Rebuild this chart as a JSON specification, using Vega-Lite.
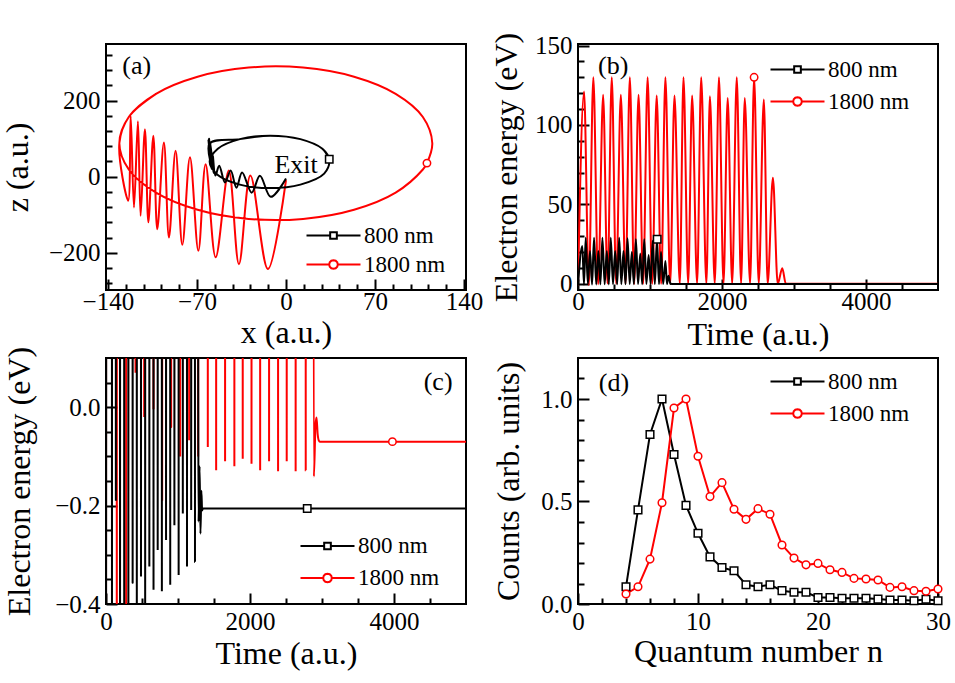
{
 "$schema": "https://vega.github.io/schema/vega-lite/v6.json",
 "background": "white",
 "padding": {"left": 0, "top": 31, "right": 0, "bottom": 0},
 "columns": 2,
 "spacing": {"row": 68, "column": 112},
 "bounds": "flush",
 "datasets": {
  "traj": [
   {"series":"1800 nm","i":1,"x":0,"z":-9},
   {"series":"1800 nm","i":2,"x":-14.2,"z":-243},
   {"series":"1800 nm","i":3,"x":-28,"z":3},
   {"series":"1800 nm","i":4,"x":-37,"z":-230},
   {"series":"1800 nm","i":5,"x":-45,"z":16},
   {"series":"1800 nm","i":6,"x":-55.3,"z":-212},
   {"series":"1800 nm","i":7,"x":-63.2,"z":33},
   {"series":"1800 nm","i":8,"x":-68.9,"z":-195},
   {"series":"1800 nm","i":9,"x":-75.5,"z":51},
   {"series":"1800 nm","i":10,"x":-81.5,"z":-179},
   {"series":"1800 nm","i":11,"x":-86.8,"z":68},
   {"series":"1800 nm","i":12,"x":-92,"z":-160},
   {"series":"1800 nm","i":13,"x":-96,"z":90},
   {"series":"1800 nm","i":14,"x":-101.2,"z":-138},
   {"series":"1800 nm","i":15,"x":-104.3,"z":108},
   {"series":"1800 nm","i":16,"x":-108.2,"z":-120},
   {"series":"1800 nm","i":17,"x":-110.9,"z":125},
   {"series":"1800 nm","i":18,"x":-114.3,"z":-103},
   {"series":"1800 nm","i":19,"x":-116.4,"z":146},
   {"series":"1800 nm","i":20,"x":-119.5,"z":-81},
   {"series":"1800 nm","i":21,"x":-122.1,"z":160},
   {"series":"1800 nm","i":22,"x":-124,"z":-63},
   {"series":"1800 nm","i":23,"x":-131,"z":88},
   {"series":"1800 nm","i":24,"x":-123.6,"z":157.1},
   {"series":"1800 nm","i":25,"x":-102.2,"z":217.9},
   {"series":"1800 nm","i":26,"x":-69.5,"z":262.9},
   {"series":"1800 nm","i":27,"x":-29.4,"z":287},
   {"series":"1800 nm","i":28,"x":13.4,"z":287},
   {"series":"1800 nm","i":29,"x":53.5,"z":262.9},
   {"series":"1800 nm","i":30,"x":86.2,"z":217.9},
   {"series":"1800 nm","i":31,"x":107.6,"z":157.1},
   {"series":"1800 nm","i":32,"x":115,"z":88},
   {"series":"1800 nm","i":33,"x":110.8,"z":35.7},
   {"series":"1800 nm","i":34,"x":107.6,"z":18.9},
   {"series":"1800 nm","i":35,"x":86.2,"z":-41.9},
   {"series":"1800 nm","i":36,"x":53.5,"z":-86.9},
   {"series":"1800 nm","i":37,"x":13.4,"z":-111},
   {"series":"1800 nm","i":38,"x":-29.4,"z":-111},
   {"series":"1800 nm","i":39,"x":-69.5,"z":-86.9},
   {"series":"1800 nm","i":40,"x":-102.2,"z":-41.9},
   {"series":"1800 nm","i":41,"x":-123.6,"z":18.9},
   {"series":"1800 nm","i":42,"x":-131,"z":88},
   {"series":"1800 nm","i":43,"x":-123.6,"z":157.1},
   {"series":"1800 nm","i":44,"x":-102.2,"z":217.9},
   {"series":"800 nm","i":1,"x":0,"z":-4.5},
   {"series":"800 nm","i":2,"x":-12,"z":-53},
   {"series":"800 nm","i":3,"x":-20.5,"z":2.6},
   {"series":"800 nm","i":4,"x":-27,"z":-42},
   {"series":"800 nm","i":5,"x":-34.5,"z":11},
   {"series":"800 nm","i":6,"x":-39,"z":-29},
   {"series":"800 nm","i":7,"x":-43.5,"z":16},
   {"series":"800 nm","i":8,"x":-48,"z":-15},
   {"series":"800 nm","i":9,"x":-52.5,"z":29},
   {"series":"800 nm","i":10,"x":-55.5,"z":3},
   {"series":"800 nm","i":11,"x":-57.5,"z":55},
   {"series":"800 nm","i":12,"x":-57,"z":10},
   {"series":"800 nm","i":13,"x":-59.5,"z":90},
   {"series":"800 nm","i":14,"x":-58.5,"z":20},
   {"series":"800 nm","i":15,"x":-60.5,"z":100},
   {"series":"800 nm","i":16,"x":-59,"z":30},
   {"series":"800 nm","i":17,"x":-61,"z":98},
   {"series":"800 nm","i":18,"x":-59.5,"z":40},
   {"series":"800 nm","i":19,"x":-60,"z":88},
   {"series":"800 nm","i":20,"x":-36.3,"z":98.8},
   {"series":"800 nm","i":21,"x":-12.5,"z":108},
   {"series":"800 nm","i":22,"x":11.3,"z":98.8},
   {"series":"800 nm","i":23,"x":28.6,"z":73.5},
   {"series":"800 nm","i":24,"x":34,"z":44},
   {"series":"800 nm","i":25,"x":30,"z":8},
   {"series":"800 nm","i":26,"x":11.3,"z":-20.8},
   {"series":"800 nm","i":27,"x":-12.5,"z":-30},
   {"series":"800 nm","i":28,"x":-36.3,"z":-20.8},
   {"series":"800 nm","i":29,"x":-53.6,"z":4.5},
   {"series":"800 nm","i":30,"x":-60,"z":39},
   {"series":"800 nm","i":31,"x":-53.6,"z":73.5},
   {"series":"800 nm","i":32,"x":-36.3,"z":98.8},
   {"series":"800 nm","i":33,"x":-12.5,"z":108},
   {"series":"800 nm","i":34,"x":11.3,"z":98.8},
   {"series":"800 nm","i":35,"x":28.6,"z":73.5},
   {"series":"800 nm","i":36,"x":34,"z":46}
  ],
  "energy": [
   {"series":"1800 nm","t":0,"E":-1},{"series":"1800 nm","t":84,"E":121},{"series":"1800 nm","t":150,"E":-0.9},{"series":"1800 nm","t":213,"E":130},
   {"series":"1800 nm","t":280,"E":-0.45},{"series":"1800 nm","t":349,"E":119},{"series":"1800 nm","t":410,"E":0.07},{"series":"1800 nm","t":469,"E":130},
   {"series":"1800 nm","t":530,"E":-0.02},{"series":"1800 nm","t":595,"E":119},{"series":"1800 nm","t":660,"E":-0.004},{"series":"1800 nm","t":720,"E":130},
   {"series":"1800 nm","t":780,"E":-0.19},{"series":"1800 nm","t":841,"E":119},{"series":"1800 nm","t":905,"E":-0.04},{"series":"1800 nm","t":967,"E":130},
   {"series":"1800 nm","t":1030,"E":-0.1},{"series":"1800 nm","t":1093,"E":118.5},{"series":"1800 nm","t":1155,"E":-0.067},{"series":"1800 nm","t":1214,"E":130},
   {"series":"1800 nm","t":1280,"E":-0.1},{"series":"1800 nm","t":1340,"E":118.5},{"series":"1800 nm","t":1414,"E":-0.081},{"series":"1800 nm","t":1465,"E":130},
   {"series":"1800 nm","t":1530,"E":-0.128},{"series":"1800 nm","t":1585,"E":118.5},{"series":"1800 nm","t":1654,"E":-0.11},{"series":"1800 nm","t":1711,"E":130},
   {"series":"1800 nm","t":1783,"E":-0.12},{"series":"1800 nm","t":1832,"E":118},{"series":"1800 nm","t":1899,"E":-0.105},{"series":"1800 nm","t":1958,"E":130},
   {"series":"1800 nm","t":2021,"E":-0.115},{"series":"1800 nm","t":2079,"E":117},{"series":"1800 nm","t":2141,"E":-0.128},{"series":"1800 nm","t":2205,"E":130},
   {"series":"1800 nm","t":2265,"E":-0.11},{"series":"1800 nm","t":2316,"E":117},{"series":"1800 nm","t":2390,"E":-0.13},{"series":"1800 nm","t":2446,"E":130},
   {"series":"1800 nm","t":2510,"E":-0.11},{"series":"1800 nm","t":2581,"E":116},{"series":"1800 nm","t":2634,"E":-0.13},{"series":"1800 nm","t":2707,"E":66.8},
   {"series":"1800 nm","t":2774,"E":-0.128},{"series":"1800 nm","t":2837,"E":9.7},{"series":"1800 nm","t":2887,"E":-0.141},{"series":"1800 nm","t":2910,"E":-0.035},
   {"series":"1800 nm","t":2924,"E":-0.021},{"series":"1800 nm","t":2940,"E":-0.055},{"series":"1800 nm","t":2956,"E":-0.068},{"series":"1800 nm","t":2970,"E":-0.07},
   {"series":"1800 nm","t":5000,"E":-0.07},
   {"series":"800 nm","t":0,"E":-1},{"series":"800 nm","t":60,"E":23.7},{"series":"800 nm","t":83,"E":-0.6},{"series":"800 nm","t":107,"E":29},
   {"series":"800 nm","t":137,"E":-0.19},{"series":"800 nm","t":167,"E":20.6},{"series":"800 nm","t":195,"E":-0.6},{"series":"800 nm","t":223,"E":29},
   {"series":"800 nm","t":253,"E":-0.5},{"series":"800 nm","t":283,"E":20.6},{"series":"800 nm","t":311,"E":-0.45},{"series":"800 nm","t":339,"E":29},
   {"series":"800 nm","t":370,"E":-0.357},{"series":"800 nm","t":400,"E":20.6},{"series":"800 nm","t":428,"E":-0.45},{"series":"800 nm","t":455,"E":29},
   {"series":"800 nm","t":486,"E":-0.344},{"series":"800 nm","t":516,"E":20.6},{"series":"800 nm","t":544,"E":-0.42},{"series":"800 nm","t":572,"E":29},
   {"series":"800 nm","t":602,"E":-0.324},{"series":"800 nm","t":632,"E":20.6},{"series":"800 nm","t":660,"E":-0.371},{"series":"800 nm","t":688,"E":28.6},
   {"series":"800 nm","t":718,"E":-0.29},{"series":"800 nm","t":748,"E":20},{"series":"800 nm","t":776,"E":-0.374},{"series":"800 nm","t":804,"E":28},
   {"series":"800 nm","t":834,"E":-0.27},{"series":"800 nm","t":865,"E":19},{"series":"800 nm","t":892,"E":-0.361},{"series":"800 nm","t":920,"E":28},
   {"series":"800 nm","t":950,"E":-0.24},{"series":"800 nm","t":981,"E":18},{"series":"800 nm","t":1009,"E":-0.341},{"series":"800 nm","t":1037,"E":27},
   {"series":"800 nm","t":1067,"E":-0.216},{"series":"800 nm","t":1097,"E":28},{"series":"800 nm","t":1125,"E":-0.324},{"series":"800 nm","t":1153,"E":20},
   {"series":"800 nm","t":1183,"E":-0.209},{"series":"800 nm","t":1214,"E":14.3},{"series":"800 nm","t":1236,"E":-0.314},{"series":"800 nm","t":1257,"E":5},
   {"series":"800 nm","t":1285,"E":-0.233},{"series":"800 nm","t":1300,"E":-0.12},{"series":"800 nm","t":1312,"E":-0.257},{"series":"800 nm","t":1325,"E":-0.17},
   {"series":"800 nm","t":1335,"E":-0.21},{"series":"800 nm","t":1345,"E":-0.206},{"series":"800 nm","t":5000,"E":-0.206}
  ],
  "mkA": [{"series":"800 nm","x":34,"z":46},{"series":"1800 nm","x":110.8,"z":35.7}],
  "mkB": [{"series":"800 nm","t":1100,"E":28},{"series":"1800 nm","t":2446,"E":130}],
  "mkC": [{"series":"800 nm","t":2795,"E":-0.206},{"series":"1800 nm","t":3978,"E":-0.07}],
  "dist": [
   {"series":"800 nm","n":4,"c":0.084},{"series":"800 nm","n":5,"c":0.459},{"series":"800 nm","n":6,"c":0.827},{"series":"800 nm","n":7,"c":1.0},
   {"series":"800 nm","n":8,"c":0.729},{"series":"800 nm","n":9,"c":0.481},{"series":"800 nm","n":10,"c":0.345},{"series":"800 nm","n":11,"c":0.23},
   {"series":"800 nm","n":12,"c":0.178},{"series":"800 nm","n":13,"c":0.162},{"series":"800 nm","n":14,"c":0.094},{"series":"800 nm","n":15,"c":0.084},
   {"series":"800 nm","n":16,"c":0.094},{"series":"800 nm","n":17,"c":0.065},{"series":"800 nm","n":18,"c":0.057},{"series":"800 nm","n":19,"c":0.057},
   {"series":"800 nm","n":20,"c":0.032},{"series":"800 nm","n":21,"c":0.032},{"series":"800 nm","n":22,"c":0.028},{"series":"800 nm","n":23,"c":0.028},
   {"series":"800 nm","n":24,"c":0.028},{"series":"800 nm","n":25,"c":0.024},{"series":"800 nm","n":26,"c":0.019},{"series":"800 nm","n":27,"c":0.019},
   {"series":"800 nm","n":28,"c":0.016},{"series":"800 nm","n":29,"c":0.023},{"series":"800 nm","n":30,"c":0.016},
   {"series":"1800 nm","n":4,"c":0.049},{"series":"1800 nm","n":5,"c":0.084},{"series":"1800 nm","n":6,"c":0.219},{"series":"1800 nm","n":7,"c":0.494},
   {"series":"1800 nm","n":8,"c":0.956},{"series":"1800 nm","n":9,"c":1.0},{"series":"1800 nm","n":10,"c":0.721},{"series":"1800 nm","n":11,"c":0.524},
   {"series":"1800 nm","n":12,"c":0.592},{"series":"1800 nm","n":13,"c":0.462},{"series":"1800 nm","n":14,"c":0.413},{"series":"1800 nm","n":15,"c":0.465},
   {"series":"1800 nm","n":16,"c":0.438},{"series":"1800 nm","n":17,"c":0.288},{"series":"1800 nm","n":18,"c":0.224},{"series":"1800 nm","n":19,"c":0.191},
   {"series":"1800 nm","n":20,"c":0.198},{"series":"1800 nm","n":21,"c":0.167},{"series":"1800 nm","n":22,"c":0.154},{"series":"1800 nm","n":23,"c":0.125},
   {"series":"1800 nm","n":24,"c":0.122},{"series":"1800 nm","n":25,"c":0.117},{"series":"1800 nm","n":26,"c":0.081},{"series":"1800 nm","n":27,"c":0.084},
   {"series":"1800 nm","n":28,"c":0.065},{"series":"1800 nm","n":29,"c":0.062},{"series":"1800 nm","n":30,"c":0.073}
  ]
 },
 "concat": [
  {
   "width": 360, "height": 246,
   "resolve": {"axis": {"x": "independent", "y": "independent"}},
   "layer": [
    {"data": {"name": "traj"}, "transform": [{"filter": "datum.series === '1800 nm'"}],
     "mark": {"type": "line", "interpolate": "catmull-rom", "color": "red", "strokeWidth": 2},
     "encoding": {
      "x": {"field": "x", "type": "quantitative", "scale": {"domain": [-141.5, 141.5], "nice": false, "zero": false},
            "axis": {"orient": "bottom", "values": [-140,-70,0,70,140], "format": "d", "tickSize": -11, "labelPadding": 10.5, "title": "x (a.u.)", "titlePadding": 3}},
      "y": {"field": "z", "type": "quantitative", "scale": {"domain": [-298, 349], "nice": false, "zero": false},
            "axis": {"orient": "left", "values": [-200,0,200], "format": "d", "tickSize": -11, "labelPadding": 17, "title": "z (a.u.)", "titlePadding": 13.5}},
      "order": {"field": "i"}
     }},
    {"data": {"name": "traj"}, "transform": [{"filter": "datum.series === '800 nm'"}],
     "mark": {"type": "line", "interpolate": "catmull-rom", "color": "black", "strokeWidth": 2},
     "encoding": {
      "x": {"field": "x", "type": "quantitative", "axis": null},
      "y": {"field": "z", "type": "quantitative", "axis": null},
      "order": {"field": "i"}
     }},
    {"data": {"name": "mkA"},
     "mark": {"type": "point", "filled": false, "fill": "white", "strokeWidth": 1.5, "size": 55, "opacity": 1},
     "encoding": {
      "x": {"field": "x", "type": "quantitative", "axis": null},
      "y": {"field": "z", "type": "quantitative", "axis": null},
      "color": {"field": "series", "type": "nominal", "scale": {"domain": ["800 nm", "1800 nm"], "range": ["black", "red"]}},
      "shape": {"condition": {"test": "datum.series === '800 nm'", "value": "square"}, "value": "circle"}
     }},
    {"data": {"name": "mkA"},
     "mark": {"type": "point", "filled": false, "fill": "white", "strokeWidth": 2, "opacity": 0},
     "encoding": {
      "x": {"field": "x", "type": "quantitative", "axis": {"orient": "bottom", "values": [-126,-112,-98,-84,-56,-42,-28,-14,14,28,42,56,84,98,112,126], "tickSize": -6, "labels": false, "title": null}},
      "y": {"field": "z", "type": "quantitative", "axis": {"orient": "left", "values": [-280,-240,-160,-120,-80,-40,40,80,120,160,240,280,320], "tickSize": -6, "labels": false, "title": null}},
      "color": {"field": "series", "type": "nominal", "scale": {"domain": ["800 nm", "1800 nm"], "range": ["black", "red"]},
                "legend": {"title": null, "orient": "none", "legendX": 216, "legendY": 180, "symbolSize": 324, "symbolStrokeWidth": 2, "symbolOpacity": 1, "labelFont": "'Liberation Serif', 'DejaVu Serif', serif", "labelFontSize": 23, "labelOffset": 19, "rowPadding": 5, "padding": 0}},
      "shape": {"field": "series", "type": "nominal", "scale": {"domain": ["800 nm", "1800 nm"], "range": ["M-3,0H-0.37M0.37,0H3M-0.37,-0.37H0.37V0.37H-0.37Z", "M-3,0H-0.48M0.48,0H3M0.48,0L0.416,0.24L0.24,0.416L0,0.48L-0.24,0.416L-0.416,0.24L-0.48,0L-0.416,-0.24L-0.24,-0.416L0,-0.48L0.24,-0.416L0.416,-0.24Z"]},
                "legend": {"title": null, "orient": "none", "legendX": 216, "legendY": 180, "symbolSize": 324, "symbolStrokeWidth": 2, "symbolOpacity": 1, "labelFont": "'Liberation Serif', 'DejaVu Serif', serif", "labelFontSize": 23, "labelOffset": 19, "rowPadding": 5, "padding": 0}}
     }},
    {"data": {"values": [{}]},
     "mark": {"type": "text", "text": "Exit", "fontSize": 26, "align": "right", "baseline": "alphabetic", "font": "'Liberation Serif', 'DejaVu Serif', serif", "color": "black"},
     "encoding": {"x": {"datum": 25, "type": "quantitative", "axis": null}, "y": {"datum": 11, "type": "quantitative", "axis": null}}},
    {"data": {"values": [{}]},
     "mark": {"type": "text", "text": "(a)", "fontSize": 26, "align": "center", "baseline": "middle", "font": "'Liberation Serif', 'DejaVu Serif', serif", "color": "black"},
     "encoding": {"x": {"datum": -117.4, "type": "quantitative", "axis": null}, "y": {"datum": 292, "type": "quantitative", "axis": null}}}
   ]
  },
  {
   "width": 360, "height": 246,
   "resolve": {"axis": {"x": "independent", "y": "independent"}},
   "layer": [
    {"data": {"name": "energy"}, "transform": [{"filter": "datum.series === '1800 nm'"}],
     "mark": {"type": "line", "interpolate": "monotone", "color": "red", "strokeWidth": 2, "clip": true},
     "encoding": {
      "x": {"field": "t", "type": "quantitative", "scale": {"domain": [0, 5000], "nice": false, "zero": false},
            "axis": {"orient": "bottom", "values": [0,2000,4000], "format": "d", "tickSize": -11, "labelPadding": 10.5, "title": "Time (a.u.)", "titlePadding": 5}},
      "y": {"field": "E", "type": "quantitative", "scale": {"domain": [-4, 151], "nice": false, "zero": false},
            "axis": {"orient": "left", "values": [0,50,100,150], "format": "d", "tickSize": -11, "labelPadding": 17, "title": "Electron energy (eV)", "titlePadding": 11}}
     }},
    {"data": {"name": "energy"}, "transform": [{"filter": "datum.series === '800 nm'"}],
     "mark": {"type": "line", "interpolate": "monotone", "color": "black", "strokeWidth": 2, "clip": true},
     "encoding": {
      "x": {"field": "t", "type": "quantitative", "axis": null},
      "y": {"field": "E", "type": "quantitative", "axis": null}
     }},
    {"data": {"name": "mkB"},
     "mark": {"type": "point", "filled": false, "fill": "white", "strokeWidth": 1.5, "size": 55, "opacity": 1},
     "encoding": {
      "x": {"field": "t", "type": "quantitative", "axis": null},
      "y": {"field": "E", "type": "quantitative", "axis": null},
      "color": {"field": "series", "type": "nominal", "scale": {"domain": ["800 nm", "1800 nm"], "range": ["black", "red"]}},
      "shape": {"condition": {"test": "datum.series === '800 nm'", "value": "square"}, "value": "circle"}
     }},
    {"data": {"name": "mkB"},
     "mark": {"type": "point", "filled": false, "fill": "white", "strokeWidth": 2, "opacity": 0},
     "encoding": {
      "x": {"field": "t", "type": "quantitative", "axis": {"orient": "bottom", "values": [500,1000,1500,2500,3000,3500,4500], "tickSize": -6, "labels": false, "title": null}},
      "y": {"field": "E", "type": "quantitative", "axis": {"orient": "left", "values": [10,20,30,40,60,70,80,90,110,120,130,140], "tickSize": -6, "labels": false, "title": null}},
      "color": {"field": "series", "type": "nominal", "scale": {"domain": ["800 nm", "1800 nm"], "range": ["black", "red"]},
                "legend": {"title": null, "orient": "none", "legendX": 208, "legendY": 14, "symbolSize": 324, "symbolStrokeWidth": 2, "symbolOpacity": 1, "labelFont": "'Liberation Serif', 'DejaVu Serif', serif", "labelFontSize": 23, "labelOffset": 19, "rowPadding": 8, "padding": 0}},
      "shape": {"field": "series", "type": "nominal", "scale": {"domain": ["800 nm", "1800 nm"], "range": ["M-3,0H-0.37M0.37,0H3M-0.37,-0.37H0.37V0.37H-0.37Z", "M-3,0H-0.48M0.48,0H3M0.48,0L0.416,0.24L0.24,0.416L0,0.48L-0.24,0.416L-0.416,0.24L-0.48,0L-0.416,-0.24L-0.24,-0.416L0,-0.48L0.24,-0.416L0.416,-0.24Z"]},
                "legend": {"title": null, "orient": "none", "legendX": 208, "legendY": 14, "symbolSize": 324, "symbolStrokeWidth": 2, "symbolOpacity": 1, "labelFont": "'Liberation Serif', 'DejaVu Serif', serif", "labelFontSize": 23, "labelOffset": 19, "rowPadding": 8, "padding": 0}}
     }},
    {"data": {"values": [{}]},
     "mark": {"type": "text", "text": "(b)", "fontSize": 26, "align": "center", "baseline": "middle", "font": "'Liberation Serif', 'DejaVu Serif', serif", "color": "black"},
     "encoding": {"x": {"datum": 488, "type": "quantitative", "axis": null}, "y": {"datum": 137, "type": "quantitative", "axis": null}}}
   ]
  },
  {
   "width": 360, "height": 246,
   "resolve": {"axis": {"x": "independent", "y": "independent"}},
   "layer": [
    {"data": {"name": "energy"}, "transform": [{"filter": "datum.series === '1800 nm'"}],
     "mark": {"type": "line", "interpolate": "monotone", "color": "red", "strokeWidth": 2, "clip": true},
     "encoding": {
      "x": {"field": "t", "type": "quantitative", "scale": {"domain": [0, 5000], "nice": false, "zero": false},
            "axis": {"orient": "bottom", "values": [0,2000,4000], "format": "d", "tickSize": -11, "labelPadding": 16.3, "title": "Time (a.u.)", "titlePadding": 4}},
      "y": {"field": "E", "type": "quantitative", "scale": {"domain": [-0.4, 0.1], "nice": false, "zero": false},
            "axis": {"orient": "left", "values": [-0.4,-0.2,0], "format": ".1f", "tickSize": -11, "labelPadding": 17, "title": "Electron energy (eV)", "titlePadding": 18}}
     }},
    {"data": {"name": "energy"}, "transform": [{"filter": "datum.series === '800 nm'"}],
     "mark": {"type": "line", "interpolate": "monotone", "color": "black", "strokeWidth": 2, "clip": true},
     "encoding": {
      "x": {"field": "t", "type": "quantitative", "axis": null},
      "y": {"field": "E", "type": "quantitative", "axis": null}
     }},
    {"data": {"name": "mkC"},
     "mark": {"type": "point", "filled": false, "fill": "white", "strokeWidth": 1.5, "size": 55, "opacity": 1},
     "encoding": {
      "x": {"field": "t", "type": "quantitative", "axis": null},
      "y": {"field": "E", "type": "quantitative", "axis": null},
      "color": {"field": "series", "type": "nominal", "scale": {"domain": ["800 nm", "1800 nm"], "range": ["black", "red"]}},
      "shape": {"condition": {"test": "datum.series === '800 nm'", "value": "square"}, "value": "circle"}
     }},
    {"data": {"name": "mkC"},
     "mark": {"type": "point", "filled": false, "fill": "white", "strokeWidth": 2, "opacity": 0},
     "encoding": {
      "x": {"field": "t", "type": "quantitative", "axis": {"orient": "bottom", "values": [500,1000,1500,2500,3000,3500,4500], "tickSize": -6, "labels": false, "title": null}},
      "y": {"field": "E", "type": "quantitative", "axis": {"orient": "left", "values": [-0.35,-0.3,-0.25,-0.15,-0.1,-0.05,0.05], "tickSize": -6, "labels": false, "title": null}},
      "color": {"field": "series", "type": "nominal", "scale": {"domain": ["800 nm", "1800 nm"], "range": ["black", "red"]},
                "legend": {"title": null, "orient": "none", "legendX": 210, "legendY": 176.5, "symbolSize": 324, "symbolStrokeWidth": 2, "symbolOpacity": 1, "labelFont": "'Liberation Serif', 'DejaVu Serif', serif", "labelFontSize": 23, "labelOffset": 19, "rowPadding": 8, "padding": 0}},
      "shape": {"field": "series", "type": "nominal", "scale": {"domain": ["800 nm", "1800 nm"], "range": ["M-3,0H-0.37M0.37,0H3M-0.37,-0.37H0.37V0.37H-0.37Z", "M-3,0H-0.48M0.48,0H3M0.48,0L0.416,0.24L0.24,0.416L0,0.48L-0.24,0.416L-0.416,0.24L-0.48,0L-0.416,-0.24L-0.24,-0.416L0,-0.48L0.24,-0.416L0.416,-0.24Z"]},
                "legend": {"title": null, "orient": "none", "legendX": 210, "legendY": 176.5, "symbolSize": 324, "symbolStrokeWidth": 2, "symbolOpacity": 1, "labelFont": "'Liberation Serif', 'DejaVu Serif', serif", "labelFontSize": 23, "labelOffset": 19, "rowPadding": 8, "padding": 0}}
     }},
    {"data": {"values": [{}]},
     "mark": {"type": "text", "text": "(c)", "fontSize": 26, "align": "center", "baseline": "middle", "font": "'Liberation Serif', 'DejaVu Serif', serif", "color": "black"},
     "encoding": {"x": {"datum": 4613, "type": "quantitative", "axis": null}, "y": {"datum": 0.0505, "type": "quantitative", "axis": null}}}
   ]
  },
  {
   "width": 360, "height": 246,
   "resolve": {"axis": {"x": "independent", "y": "independent"}},
   "layer": [
    {"data": {"name": "dist"}, "transform": [{"filter": "datum.series === '800 nm'"}],
     "mark": {"type": "line", "color": "black", "strokeWidth": 2},
     "encoding": {
      "x": {"field": "n", "type": "quantitative", "scale": {"domain": [0, 30], "nice": false, "zero": false},
            "axis": {"orient": "bottom", "values": [0,10,20,30], "format": "d", "tickSize": -11, "labelPadding": 16.3, "title": "Quantum number n", "titlePadding": 2}},
      "y": {"field": "c", "type": "quantitative", "scale": {"domain": [0, 1.2], "nice": false, "zero": false},
            "axis": {"orient": "left", "values": [0,0.5,1.0], "format": ".1f", "tickSize": -11, "labelPadding": 17, "title": "Counts (arb. units)", "titlePadding": 15}}
     }},
    {"data": {"name": "dist"}, "transform": [{"filter": "datum.series === '1800 nm'"}],
     "mark": {"type": "line", "color": "red", "strokeWidth": 2},
     "encoding": {
      "x": {"field": "n", "type": "quantitative", "axis": null},
      "y": {"field": "c", "type": "quantitative", "axis": null}
     }},
    {"data": {"name": "dist"},
     "mark": {"type": "point", "filled": false, "fill": "white", "strokeWidth": 1.5, "size": 58, "opacity": 1},
     "encoding": {
      "x": {"field": "n", "type": "quantitative", "axis": null},
      "y": {"field": "c", "type": "quantitative", "axis": null},
      "color": {"field": "series", "type": "nominal", "scale": {"domain": ["800 nm", "1800 nm"], "range": ["black", "red"]}},
      "shape": {"condition": {"test": "datum.series === '800 nm'", "value": "square"}, "value": "circle"}
     }},
    {"data": {"name": "mkB"},
     "mark": {"type": "point", "filled": false, "fill": "white", "strokeWidth": 2, "opacity": 0},
     "encoding": {
      "x": {"datum": 15, "type": "quantitative", "axis": {"orient": "bottom", "values": [2,4,6,8,12,14,16,18,22,24,26,28], "tickSize": -6, "labels": false, "title": null}},
      "y": {"datum": 0.5, "type": "quantitative", "axis": {"orient": "left", "values": [0.1,0.2,0.3,0.4,0.6,0.7,0.8,0.9,1.1], "tickSize": -6, "labels": false, "title": null}},
      "color": {"field": "series", "type": "nominal", "scale": {"domain": ["800 nm", "1800 nm"], "range": ["black", "red"]},
                "legend": {"title": null, "orient": "none", "legendX": 208, "legendY": 12, "symbolSize": 324, "symbolStrokeWidth": 2, "symbolOpacity": 1, "labelFont": "'Liberation Serif', 'DejaVu Serif', serif", "labelFontSize": 23, "labelOffset": 19, "rowPadding": 8, "padding": 0}},
      "shape": {"field": "series", "type": "nominal", "scale": {"domain": ["800 nm", "1800 nm"], "range": ["M-3,0H-0.37M0.37,0H3M-0.37,-0.37H0.37V0.37H-0.37Z", "M-3,0H-0.48M0.48,0H3M0.48,0L0.416,0.24L0.24,0.416L0,0.48L-0.24,0.416L-0.416,0.24L-0.48,0L-0.416,-0.24L-0.24,-0.416L0,-0.48L0.24,-0.416L0.416,-0.24Z"]},
                "legend": {"title": null, "orient": "none", "legendX": 208, "legendY": 12, "symbolSize": 324, "symbolStrokeWidth": 2, "symbolOpacity": 1, "labelFont": "'Liberation Serif', 'DejaVu Serif', serif", "labelFontSize": 23, "labelOffset": 19, "rowPadding": 8, "padding": 0}}
     }},
    {"data": {"values": [{}]},
     "mark": {"type": "text", "text": "(d)", "fontSize": 26, "align": "center", "baseline": "middle", "font": "'Liberation Serif', 'DejaVu Serif', serif", "color": "black"},
     "encoding": {"x": {"datum": 3, "type": "quantitative", "axis": null}, "y": {"datum": 1.078, "type": "quantitative", "axis": null}}}
   ]
  }
 ],
 "resolve": {"scale": {"color": "independent", "shape": "independent"}, "legend": {"color": "independent", "shape": "independent"}},
 "config": {
  "font": "Liberation Serif",
  "view": {"stroke": "black", "strokeWidth": 2},
  "style": {"guide-label": {"font": "Liberation Serif"}, "guide-title": {"font": "Liberation Serif"}},
  "axis": {"domain": false, "grid": false, "tickColor": "black", "tickWidth": 2, "labelFont": "Liberation Serif", "labelFontSize": 25, "labelColor": "black", "titleFont": "Liberation Serif", "titleFontSize": 32, "titleFontWeight": "normal", "titleColor": "black", "labelFlush": false, "labelOverlap": false},
  "legend": {"labelFont": "Liberation Serif", "labelFontSize": 23, "labelColor": "black"}
 }
}
